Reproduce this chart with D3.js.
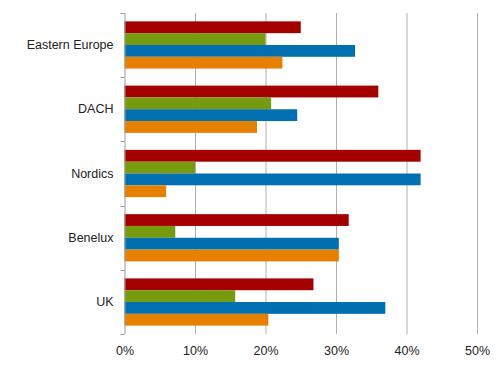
<!DOCTYPE html>
<html>
<head>
<meta charset="utf-8">
<script src="https://cdnjs.cloudflare.com/ajax/libs/d3/7.8.5/d3.min.js"></script>
<style>
	body { margin: 0; background: #fff; }
	text { font-family: 'Liberation Sans', Arial, sans-serif; font-size: 12.5px; fill: #222; }
</style>
</head>
<body>
<svg id="chart" width="500" height="371"></svg>
<script>
const regions = ['Eastern Europe', 'DACH', 'Nordics', 'Benelux', 'UK']
const seriesNames = ['s1', 's2', 's3', 's4']
const seriesColors = ['#a50000', '#779a0f', '#0070b0', '#e58000']
const s1 = [25, 36, 42, 31.8, 26.8]
const s2 = [20, 20.8, 10, 7.2, 15.7]
const s3 = [32.7, 24.5, 42, 30.4, 37]
const s4 = [22.4, 18.8, 5.9, 30.4, 20.4]
const xTicks = [0, 10, 20, 30, 40, 50]

const values = [s1, s2, s3, s4]

const margin = { top: 13, left: 124.5, right: 23, bottom: 37 }
const width = 500, height = 371
const font = "'Liberation Sans', Arial, sans-serif"

const svg = d3.select('#chart')

const x = d3.scaleLinear().domain([0, 50]).range([margin.left, width - margin.right])
const y = d3.scaleBand().domain(regions).range([margin.top, height - margin.bottom])
	.paddingInner(0.265).paddingOuter(0.13)
const ySeries = d3.scaleBand().domain(seriesNames).range([0, y.bandwidth()])

// vertical gridlines
svg.append('g')
	.selectAll('line')
	.data(xTicks.slice(1))
	.enter()
	.append('line')
	.attr('x1', d => x(d) + 0.5)
	.attr('x2', d => x(d) + 0.5)
	.attr('y1', margin.top)
	.attr('y2', height - margin.bottom)
	.attr('stroke', '#b0b0b0')
	.attr('stroke-width', 1)

// bars
regions.forEach((r, i) => {
	svg.append('g')
		.selectAll('rect')
		.data(seriesNames)
		.enter()
		.append('rect')
		.attr('x', x(0))
		.attr('y', s => y(r) + ySeries(s))
		.attr('width', (s, j) => x(values[j][i]) - x(0))
		.attr('height', ySeries.bandwidth())
		.attr('fill', (s, j) => seriesColors[j])
})

// left axis with category labels
const yAxis = d3.axisLeft(y).tickSize(0).tickPadding(11)
const gy = svg.append('g').attr('transform', `translate(${x(0)},0)`).call(yAxis)
gy.select('.domain').remove()
gy.selectAll('text').attr('font-size', 12.5).attr('fill', '#222').attr('font-family', font)

const boundaries = d3.range(regions.length + 1).map(k => margin.top + k * (height - margin.top - margin.bottom) / regions.length)
svg.append('line')
	.attr('x1', x(0) + 0.5).attr('x2', x(0) + 0.5)
	.attr('y1', margin.top).attr('y2', height - margin.bottom)
	.attr('stroke', '#999')
svg.append('g')
	.selectAll('line')
	.data(boundaries)
	.enter()
	.append('line')
	.attr('x1', x(0) - 4).attr('x2', x(0))
	.attr('y1', d => Math.round(d) + 0.5).attr('y2', d => Math.round(d) + 0.5)
	.attr('stroke', '#999')

// bottom axis labels
const xAxis = d3.axisBottom(x).tickValues(xTicks).tickFormat(d => d + '%').tickSize(0).tickPadding(12)
const gx = svg.append('g').attr('transform', `translate(0,${height - margin.bottom})`).call(xAxis)
gx.select('.domain').remove()
gx.selectAll('text').attr('font-size', 12.5).attr('fill', '#222').attr('font-family', font)
</script>
</body>
</html>
